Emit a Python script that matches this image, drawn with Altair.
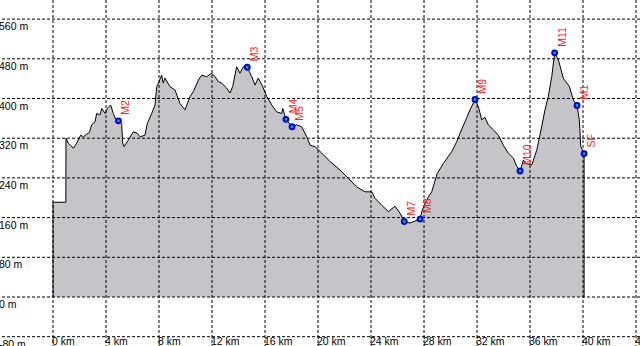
import altair as alt
import pandas as pd

# Elevation profile (distance in km, elevation in m)
km = [0.0, 0.97, 0.98, 1.15, 1.53, 1.79, 2.09, 2.29, 2.54, 2.74, 2.92, 3.17, 3.30, 3.55, 3.68,
      3.92, 4.10, 4.35, 4.55, 4.75, 4.94, 5.18, 5.26, 5.36, 5.68, 6.06, 6.36, 6.57, 6.94, 7.12,
      7.45, 7.70, 7.83, 7.95, 8.20, 8.32, 8.45, 8.83, 9.21, 9.58, 9.96, 10.34, 10.59, 10.97,
      11.22, 11.60, 11.98, 12.23, 12.48, 12.73, 13.11, 13.36, 13.56, 13.86, 14.11, 14.36, 14.66,
      15.00, 15.25, 15.49, 15.83, 16.13, 16.51, 16.88, 17.26, 17.34, 17.58, 18.04, 18.39, 18.77,
      19.15, 19.40, 19.77, 20.28, 20.91, 21.66, 22.29, 22.92, 23.55, 24.05, 24.30, 24.81, 25.31,
      25.81, 26.19, 26.51, 26.94, 27.70, 27.83, 28.20, 28.58, 29.00, 29.46, 30.09, 30.47, 30.72,
      31.09, 31.47, 31.85, 32.10, 32.35, 32.60, 32.85, 33.23, 33.61, 33.98, 34.36, 34.74, 35.00,
      35.25, 35.50, 35.75, 36.13, 36.51, 36.88, 37.13, 37.38, 37.64, 37.86, 38.14, 38.51, 38.97,
      39.27, 39.55, 39.72, 39.83, 40.08]
elev = [191, 191, 320, 310, 300, 310, 326, 323, 328, 331, 347, 353, 370, 367, 380,
        370, 380, 387, 370, 357, 355, 350, 310, 303, 316, 333, 330, 323, 326, 350,
        370, 387, 424, 431, 447, 431, 441, 424, 417, 390, 377, 404, 414, 437,
        447, 444, 451, 444, 434, 431, 421, 411, 424, 464, 451, 464, 463,
        444, 427, 441, 424, 404, 387, 373, 370, 380, 358, 343, 347, 343,
        323, 306, 303, 290, 273, 256, 239, 222, 212, 212, 199, 185, 172,
        183, 169, 152, 149, 157, 172, 196, 212, 249, 269, 293, 313, 330,
        353, 377, 398, 384, 357, 362, 347, 337, 326, 306, 290, 280, 263,
        254, 276, 269, 266, 296, 343, 377, 404, 444, 492, 478, 441, 424,
        397, 386, 357, 303, 289]

# Waypoints
wp_name = ["M2", "M3", "M4", "M5", "M7", "M8", "M9", "M10", "M11", "M1", "SF"]
wp_km = [4.94, 14.66, 17.58, 18.04, 26.51, 27.70, 31.85, 35.25, 37.86, 39.55, 40.08]
wp_elev = [355, 463, 358, 343, 152, 157, 398, 254, 492, 386, 289]

# Axis ticks
x_ticks = [0, 4, 8, 12, 16, 20, 24, 28, 32, 36, 40, 44]
x_labels = ["0 km", "4 km", "8 km", "12 km", "16 km", "20 km", "24 km", "28 km",
            "32 km", "36 km", "40 km", "44 km"]
y_ticks = [-80, 0, 80, 160, 240, 320, 400, 480, 560]
y_labels = ["-80 m", "0 m", "80 m", "160 m", "240 m", "320 m", "400 m", "480 m", "560 m"]

FONT = "Liberation Sans"

prof = pd.DataFrame({"km": km, "elev": elev})
outline = pd.DataFrame({"km": [0.0] + km + [km[-1]],
                        "elev": [0] + elev + [0]})
outline["i"] = range(len(outline))
wp = pd.DataFrame({"km": wp_km, "elev": wp_elev, "name": wp_name})
xt = pd.DataFrame({"km": x_ticks, "label": x_labels})
yt = pd.DataFrame({"elev": y_ticks, "label": y_labels})

xs = alt.Scale(domain=[-4.0, 44.30], nice=False, zero=False)
ys = alt.Scale(domain=[-98.74, 598.5], nice=False, zero=False)
X = lambda: alt.X("km:Q", scale=xs, axis=None)
Y = lambda: alt.Y("elev:Q", scale=ys, axis=None)

area = alt.Chart(prof).mark_area(color="#c6c4c8", opacity=1).encode(
    x=X(), y=alt.Y("elev:Q", scale=ys, axis=None, stack=None), y2=alt.datum(0))

vgrid = alt.Chart(xt).mark_rule(color="#000000", strokeDash=[3, 2], strokeWidth=1).encode(x=X())
hgrid = alt.Chart(yt).mark_rule(color="#000000", strokeDash=[3, 2], strokeWidth=1).encode(y=Y())

line = alt.Chart(outline).mark_line(color="#000000", strokeWidth=1).encode(
    x=X(), y=Y(), order=alt.Order("i:Q"))

pts = alt.Chart(wp).mark_point(shape="circle", filled=True, fill="#22bb22",
                               stroke="#0000ff", strokeWidth=2, size=24, opacity=1).encode(
    x=X(), y=Y())

wlab = alt.Chart(wp).mark_text(angle=270, align="left", baseline="middle", dx=6, dy=8,
                               color="#ff2020", font=FONT, fontSize=10.5).encode(
    x=X(), y=Y(), text="name:N")

xlab = alt.Chart(xt).mark_text(align="left", baseline="top", dx=-1, color="#000000",
                               font=FONT, fontSize=10.5).encode(
    x=X(), y=alt.value(337), text="label:N")
ylab = alt.Chart(yt).mark_text(align="left", baseline="top", dy=3, color="#000000",
                               font=FONT, fontSize=10.5).encode(
    x=alt.value(-1), y=Y(), text="label:N")

chart = alt.layer(area, vgrid, hgrid, line, pts, wlab, xlab, ylab).properties(
    width=640, height=346, padding=0, autosize=alt.AutoSizeParams(type="none"),
    background="#ffffff"
).configure_view(stroke=None)

chart.save("out.html", embed_options={"renderer": "svg", "actions": False})
